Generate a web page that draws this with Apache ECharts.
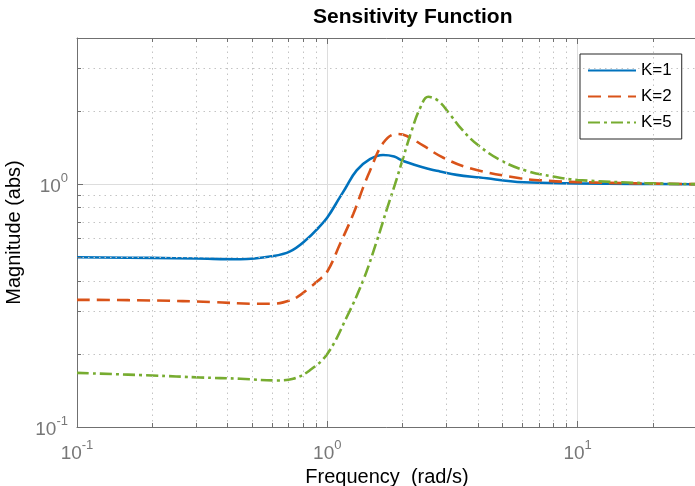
<!DOCTYPE html>
<html>
<head>
<meta charset="utf-8">
<script src="https://cdn.jsdelivr.net/npm/echarts@6/dist/echarts.min.js"></script>
<style>
    html, body {margin: 0; padding: 0; background: #fff;}
    #chartWrap {width: 695px; height: 486px;}
</style>
</head>
<body>
<div id="chartWrap"></div>
<script>
// |S(jw)|, one freq array per curve (rad/s)
const freqK1 = [0.1, 0.2, 0.3, 0.45, 0.6, 0.71, 0.83, 0.92, 1.0, 1.12, 1.18, 1.31, 1.48, 1.67, 1.85, 2.01, 2.57, 2.82, 3.29, 4.07, 6.07, 10, 17, 30];
const magK1 = [0.5, 0.497, 0.494, 0.491, 0.505, 0.529, 0.594, 0.66, 0.729, 0.88, 0.96, 1.14, 1.267, 1.319, 1.3, 1.247, 1.152, 1.128, 1.092, 1.065, 1.018, 1.008, 1.003, 1.0];

const freqK2 = [0.1, 0.2, 0.35, 0.5, 0.6, 0.667, 0.755, 0.853, 0.92, 1.0, 1.124, 1.27, 1.39, 1.48, 1.674, 1.89, 2.077, 2.42, 2.91, 3.72, 5.89, 7.7, 10, 17, 30];
const magK2 = [0.334, 0.332, 0.327, 0.322, 0.322, 0.326, 0.342, 0.376, 0.401, 0.437, 0.567, 0.753, 0.968, 1.134, 1.48, 1.61, 1.58, 1.44, 1.285, 1.163, 1.058, 1.032, 1.02, 1.008, 1.0];

const freqK5 = [0.1, 0.2, 0.31, 0.45, 0.628, 0.731, 0.85, 1.0, 1.195, 1.39, 1.57, 1.73, 1.865, 2.01, 2.17, 2.35, 2.53, 2.78, 3.09, 3.45, 4.0, 4.98, 6.27, 8.0, 10, 18.6, 30];
const magK5 = [0.167, 0.163, 0.16, 0.158, 0.1555, 0.158, 0.171, 0.2, 0.283, 0.401, 0.575, 0.789, 1.0, 1.285, 1.655, 2.06, 2.29, 2.2, 1.94, 1.68, 1.45, 1.247, 1.134, 1.075, 1.041, 1.01, 1.0];

const seriesNames = ['K=1', 'K=2', 'K=5'];

// axis ranges and minor (2..9) grid positions
const xRange = [0.1, 30];
const yRange = [0.1, 4];
const xMinor = [0.2, 0.3, 0.4, 0.5, 0.6, 0.7, 0.8, 0.9, 2, 3, 4, 5, 6, 7, 8, 9, 20];
const yMinor = [0.2, 0.3, 0.4, 0.5, 0.6, 0.7, 0.8, 0.9, 2, 3];

const GRID = {left: 77, top: 38, width: 620, height: 389, outerBoundsMode: 'none'};
const AX = '#707070';
const LABEL = '#777777';
const FONT = '"Liberation Sans", Arial, sans-serif';

let myChart = echarts.init(document.getElementById('chartWrap'));

// data value that sits px pixels away from an axis end (log scale)
function stepLog(v, px, span, range) {
    return v * Math.pow(10, px / span * Math.log10(range[1] / range[0]));
}

function pow10Label(v) {
    const e = Math.round(Math.log10(v));
    if (Math.abs(Math.log10(v) - e) > 1e-6) {
        return '';
    }
    return '{b|10}{s|' + e + '}';
}

const labelRich = {
    b: {fontSize: 19, color: LABEL, fontFamily: FONT, lineHeight: 24, verticalAlign: 'bottom'},
    s: {fontSize: 13, color: LABEL, fontFamily: FONT, lineHeight: 14, verticalAlign: 'top'}
};

// dotted minor grid
let gridLines = [];
xMinor.forEach(function (v) {
    gridLines.push({xAxis: v});
});
yMinor.forEach(function (v) {
    gridLines.push({yAxis: v});
});

// minor ticks, inside, on all four sides
const tickLen = 4;
let tickLines = [];
xMinor.forEach(function (v) {
    tickLines.push([{coord: [v, yRange[0]]}, {coord: [v, stepLog(yRange[0], tickLen, GRID.height, yRange)]}]);
    tickLines.push([{coord: [v, yRange[1]]}, {coord: [v, stepLog(yRange[1], -tickLen, GRID.height, yRange)]}]);
});
yMinor.forEach(function (v) {
    tickLines.push([{coord: [xRange[0], v]}, {coord: [stepLog(xRange[0], tickLen, GRID.width, xRange), v]}]);
});

function curve(name, f, m, color, type) {
    return {
        name: name,
        type: 'line',
        data: f.map(function (x, i) {
            return [x, m[i]];
        }),
        symbol: 'none',
        showSymbol: false,
        smooth: 0.4,
        z: 3,
        itemStyle: {color: color},
        lineStyle: {color: color, width: 2.6, type: type}
    };
}

myChart.setOption({
    animation: false,
    backgroundColor: '#fff',
    title: {
        text: 'Sensitivity Function',
        left: 313,
        top: 7,
        padding: 0,
        textStyle: {fontSize: 21, fontWeight: 'bold', color: '#000', fontFamily: FONT}
    },
    legend: {
        data: seriesNames,
        orient: 'vertical',
        left: 580,
        top: 54,
        padding: [8, 10, 8, 7],
        itemWidth: 48,
        itemHeight: 14,
        itemGap: 9,
        backgroundColor: '#fff',
        borderColor: '#262626',
        borderWidth: 1,
        borderRadius: 0,
        itemStyle: {opacity: 0},
        textStyle: {fontSize: 17, color: '#000', fontFamily: FONT, lineHeight: 14}
    },
    grid: GRID,
    xAxis: [
        {
            type: 'log',
            logBase: 10,
            min: xRange[0],
            max: xRange[1],
            name: 'Frequency  (rad/s)',
            nameLocation: 'middle',
            nameGap: 26,
            nameTextStyle: {fontSize: 20, color: '#000', fontFamily: FONT},
            axisLine: {show: true, lineStyle: {color: AX, width: 1}},
            axisTick: {show: true, inside: true, length: 6, lineStyle: {color: AX}},
            axisLabel: {formatter: pow10Label, rich: labelRich, margin: 12, showMaxLabel: false},
            splitLine: {show: true, lineStyle: {color: '#dddddd', width: 1}}
        },
        {
            type: 'log',
            logBase: 10,
            min: xRange[0],
            max: xRange[1],
            position: 'top',
            axisLine: {show: true, lineStyle: {color: AX, width: 1}},
            axisTick: {show: true, inside: true, length: 6, lineStyle: {color: AX}},
            axisLabel: {show: false},
            splitLine: {show: false}
        }
    ],
    yAxis: [
        {
            type: 'log',
            logBase: 10,
            min: yRange[0],
            max: yRange[1],
            name: 'Magnitude (abs)',
            nameLocation: 'middle',
            nameGap: 50,
            nameTextStyle: {fontSize: 20, color: '#000', fontFamily: FONT},
            axisLine: {show: true, lineStyle: {color: AX, width: 1}},
            axisTick: {show: true, inside: true, length: 6, lineStyle: {color: AX}},
            axisLabel: {formatter: pow10Label, rich: labelRich, margin: 9, showMaxLabel: false},
            splitLine: {show: true, lineStyle: {color: '#dddddd', width: 1}}
        },
        {
            type: 'log',
            logBase: 10,
            min: yRange[0],
            max: yRange[1],
            position: 'right',
            axisLine: {show: true, lineStyle: {color: AX, width: 1}},
            axisTick: {show: true, inside: true, length: 6, lineStyle: {color: AX}},
            axisLabel: {show: false},
            splitLine: {show: false}
        }
    ],
    series: [
        {
            name: 'minor',
            type: 'line',
            data: [],
            z: 1,
            silent: true,
            markLine: {
                silent: true,
                symbol: 'none',
                label: {show: false},
                animation: false,
                lineStyle: {color: '#c4c4c4', width: 1, type: [1.5, 4]},
                data: gridLines
            }
        },
        {
            name: 'ticks',
            type: 'line',
            data: [],
            z: 2,
            silent: true,
            markLine: {
                silent: true,
                symbol: 'none',
                label: {show: false},
                animation: false,
                lineStyle: {color: AX, width: 1, type: 'solid'},
                data: tickLines
            }
        },
        curve(seriesNames[0], freqK1, magK1, '#0072BD', 'solid'),
        curve(seriesNames[1], freqK2, magK2, '#D95319', [13, 7]),
        curve(seriesNames[2], freqK5, magK5, '#77AC30', [12, 4, 3, 4])
    ]
});
</script>
</body>
</html>
